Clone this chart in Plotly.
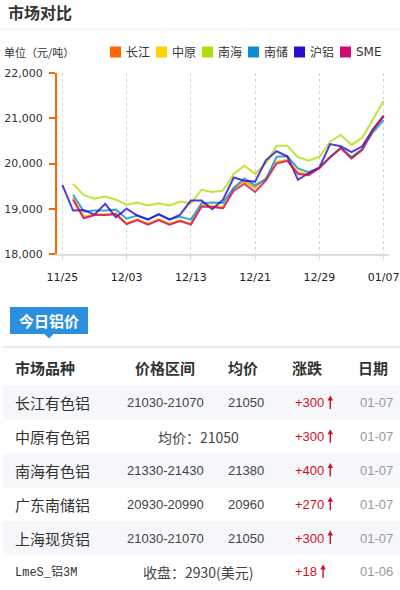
import plotly.graph_objects as go

# ---- chart data: trading days and daily aluminium prices (元/吨) ----
dates = ["11/25", "11/26", "11/29", "11/30", "12/01", "12/02", "12/03",
         "12/06", "12/07", "12/08", "12/09", "12/10", "12/13",
         "12/14", "12/15", "12/16", "12/17", "12/20", "12/21",
         "12/22", "12/23", "12/24", "12/27", "12/28", "12/29",
         "12/30", "12/31", "01/04", "01/05", "01/06", "01/07"]
tick_labels = ["11/25", "12/03", "12/13", "12/21", "12/29", "01/07"]
y_ticks = [18000, 19000, 20000, 21000, 22000]

series_names = ["长江", "中原", "南海", "南储", "沪铝", "SME"]
series_colors = ["#FF6600", "#FCD202", "#B0DE09", "#0D8ECF", "#2A0CD0", "#CD0D74"]

changjiang = [None, 19240, 18800, 18870, 18870, 18890, 18670, 18760, 18660, 18760,
              18660, 18740, 18660, 19060, 19050, 19020, 19460, 19600, 19470, 19670,
              20030, 20070, 19790, 19750, 19900, 20140, 20340, 20120, 20300, 20750, 21050]
zhongyuan = [None, 19220, 18830, 18880, 18880, 18900, 18680, 18770, 18670, 18770,
             18670, 18750, 18670, 19080, 19070, 19040, 19440, 19580, 19450, 19650,
             20040, 20080, 19820, 19770, 19900, 20140, 20340, 20120, 20300, 20750, 21050]
nanhai = [None, 19550, 19300, 19220, 19270, 19200, 19090, 19140, 19070, 19120,
          19070, 19160, 19120, 19420, 19370, 19400, 19770, 19950, 19770, 20000,
          20390, 20390, 20140, 20060, 20150, 20480, 20630, 20410, 20570, 20980, 21380]
nanchu = [None, 19310, 18940, 18960, 18960, 18980, 18780, 18850, 18770, 18870,
          18770, 18820, 18760, 19120, 19140, 19130, 19460, 19670, 19520, 19650,
          20150, 20160, 19890, 19810, 19910, 20140, 20350, 20140, 20320, 20690, 20960]
hulv = [19530, 18960, 18970, 18870, 19110, 18810, 19000, 18850, 18760, 18880,
        18760, 18870, 19180, 19180, 18990, 19200, 19690, 19620, 19600, 20070,
        20270, 20160, 19640, 19790, 19910, 20430, 20380, 20250, 20380, 20750, 21040]
sme = [None, 19200, 18790, 18860, 18860, 18880, 18660, 18750, 18650, 18750,
       18650, 18730, 18650, 19050, 19040, 19010, 19400, 19550, 19370, 19620,
       20000, 20060, 19770, 19740, 19900, 20140, 20340, 20110, 20300, 20750, 21060]
series_values = [changjiang, zhongyuan, nanhai, nanchu, hulv, sme]

# ---- table data: today's aluminium prices ----
table_header = ["市场品种", "价格区间", "均价", "涨跌", "日期"]
markets = ["长江有色铝", "中原有色铝", "南海有色铝", "广东南储铝", "上海现货铝", "LmeS_铝3M"]
price_ranges = ["21030-21070", None, "21330-21430", "20930-20990", "21030-21070", None]
avg_prices = ["21050", None, "21380", "20960", "21050", None]
merged_texts = [None, "均价：21050", None, None, None, "收盘：2930(美元)"]
changes = [300, 300, 400, 270, 300, 18]
update_dates = ["01-07", "01-07", "01-07", "01-07", "01-07", "01-06"]

# ---- page geometry (pixels) ----
W, H = 400, 590
ML, MR, MT, MB = 57, 11, 73, 336
PW, PH = W - ML - MR, H - MT - MB

CJK = "Noto Sans CJK SC"
NUM = "Liberation Sans"
UP_RED = "#d0112b"


def px(x):
    return (x - ML) / PW


def py(y):
    return (H - MB - y) / PH


fig = go.Figure()
for name, color, vals in zip(series_names, series_colors, series_values):
    fig.add_trace(go.Scatter(
        x=dates, y=vals, name=name, mode="lines",
        line=dict(color=color, width=2), opacity=0.8,
        connectgaps=False, showlegend=False, hoverinfo="skip"))

shapes = []
annotations = []


def text(x, y, s, size=14, color="#333", family=CJK, xanchor="left", bold=False):
    if bold:
        s = "<b>" + s + "</b>"
    annotations.append(dict(
        x=px(x), y=py(y), xref="paper", yref="paper", text=s, showarrow=False,
        xanchor=xanchor, yanchor="middle",
        font=dict(size=size, color=color, family=family)))


def rect(x0, y0, x1, y1, fill, line_color=None, width=0):
    shapes.append(dict(
        type="rect", xref="paper", yref="paper",
        x0=px(x0), x1=px(x1), y0=py(y0), y1=py(y1),
        fillcolor=fill, line=dict(color=line_color or fill, width=width), layer="below"))


def up_arrow(x, y_top, y_bot, color):
    # thin vertical arrow with a small triangular head
    shapes.append(dict(type="line", xref="paper", yref="paper",
                       x0=px(x), x1=px(x), y0=py(y_top + 3), y1=py(y_bot),
                       line=dict(color=color, width=1.4)))
    shapes.append(dict(type="path", xref="paper", yref="paper",
                       path="M {} {} L {} {} L {} {} Z".format(
                           px(x - 2.8), py(y_top + 5), px(x + 2.8), py(y_top + 5), px(x), py(y_top)),
                       fillcolor=color, line=dict(width=0)))


# header title and divider
text(6, 12, "市场对比", size=16, color="#333", bold=True)
shapes.append(dict(type="line", xref="paper", yref="paper",
                   x0=px(0), x1=px(W), y0=py(29), y1=py(29),
                   line=dict(color="#eeeeee", width=1)))

# unit label and legend
text(2, 52, "单位（元/吨）", size=11, color="#333")
lx = 110
for name, color in zip(series_names, series_colors):
    rect(lx, 46.5, lx + 11, 57.5, color)
    text(lx + 14, 52, name, size=12, color="#333",
         family="DejaVu Sans, " + CJK if name.isascii() else CJK)
    lx += 46

# "今日铝价" tab
rect(10, 307, 88, 334, "#2B8FE0")
shapes.append(dict(type="path", xref="paper", yref="paper",
                   path="M {} {} L {} {} L {} {} Z".format(px(44), py(333.5), px(54), py(333.5), px(49), py(338.5)),
                   fillcolor="#2B8FE0", line=dict(width=0)))
text(49, 320.5, "今日铝价", size=15, color="#ffffff", xanchor="center", bold=True)
shapes.append(dict(type="line", xref="paper", yref="paper",
                   x0=px(3), x1=px(W), y0=py(347), y1=py(347),
                   line=dict(color="#e8edf3", width=2)))

# table header
col_x = [13, 165, 243, 307, 373]
hdr_y = 367
for i, h in enumerate(table_header):
    text(col_x[i], hdr_y, h, size=15, color="#333", bold=True,
         xanchor="left" if i == 0 else "center")

# table rows
row_top, row_h = 386, 33.8
for r in range(len(markets)):
    top = row_top + r * row_h
    cy = top + row_h / 2
    if r % 2 == 0:
        rect(3, top, W, top + row_h, "#f6f7fa")
    if "_" in markets[r]:
        text(13, cy, markets[r], size=12, color="#333", family="Liberation Mono, " + CJK)
    else:
        text(13, cy, markets[r], size=15, color="#333")
    if price_ranges[r] is not None:
        text(165, cy, price_ranges[r], size=13, color="#444", family=NUM, xanchor="center")
        text(246, cy, avg_prices[r], size=13, color="#444", family=NUM, xanchor="center")
    else:
        text(198, cy, merged_texts[r], size=14, color="#444", family=CJK, xanchor="center")
    change_txt = "+{}".format(changes[r])
    text(293, cy, change_txt, size=13, color=UP_RED, family=NUM)
    arrow_x = 293 + 7.6 + 7.23 * (len(change_txt) - 1) + 8
    up_arrow(arrow_x, cy - 7.5, cy + 6, UP_RED)
    text(376, cy, update_dates[r], size=13, color="#999999", family=NUM, xanchor="center")

fig.update_layout(
    width=W, height=H, autosize=False,
    margin=dict(l=ML, r=MR, t=MT, b=MB, pad=0, autoexpand=False),
    paper_bgcolor="#ffffff", plot_bgcolor="#ffffff",
    showlegend=False,
    shapes=shapes, annotations=annotations,
    xaxis=dict(
        type="category", range=[-0.5, len(dates) - 0.5], automargin=False,
        tickmode="array", tickvals=tick_labels, ticktext=tick_labels,
        showgrid=True, gridcolor="#d6d6d6", griddash="dot", gridwidth=1,
        showline=True, linecolor="#dddddd", linewidth=2,
        ticks="outside", ticklen=4, tickcolor="#dddddd",
        ticklabelstandoff=8,
        tickfont=dict(family="DejaVu Sans", size=11, color="#222"),
        zeroline=False, fixedrange=True),
    yaxis=dict(
        range=[18000, 22000], tickvals=y_ticks, tickformat=",d", automargin=False,
        showgrid=False, zeroline=False,
        showline=True, linecolor="#FF6600", linewidth=2,
        ticks="outside", ticklen=6, tickcolor="#FF6600", tickwidth=1.5,
        ticklabelstandoff=4,
        tickfont=dict(family="DejaVu Sans", size=11, color="#333"),
        fixedrange=True),
)

fig.write_html("out.html", config={"responsive": False})
